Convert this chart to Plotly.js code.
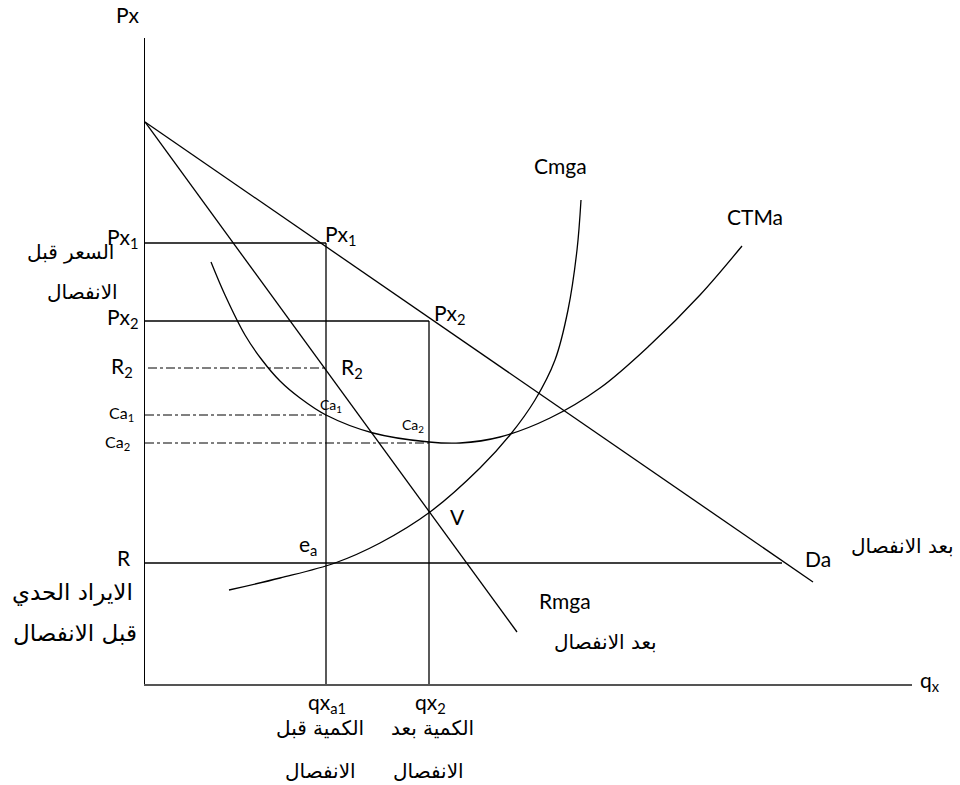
<!DOCTYPE html>
<html>
<head>
<meta charset="utf-8">
<script src="https://cdn.plot.ly/plotly-3.0.1.min.js"></script>
<style>html,body{margin:0;padding:0;background:#fff;}#chart{width:960px;height:785px;}</style>
</head>
<body>
<div id="chart"></div>
<script>
// ---- data (arbitrary units) ----
const qxA1 = 18.1;          // quantity before separation
const qx2 = 28.4;           // quantity after separation
const px1 = 44.1;           // price before separation
const px2 = 36.3;           // price after separation
const r2 = 31.6;
const ca1 = 26.9;
const ca2 = 24.1;
const rLevel = 12.1;
const rEndQ = 63.7;

const demandQ = [0, 66.8];
const demandP = [56.2, 10.2];

const rmgaQ = [0, 37.2];
const rmgaP = [56.2, 5.2];

const ctmaQ = [6.6, 8.0, 10.0, 11.7, 13.5, 15.5, 18.1, 22.8, 28.4, 31.5, 35.5, 40.5, 45.5, 50.5, 55.5, 59.7];
const ctmaP = [42.2, 38.9, 34.9, 32.4, 30.3, 28.6, 26.9, 25.1, 24.2, 24.1, 24.7, 26.6, 29.6, 33.9, 38.9, 43.8];

const cmgaQ = [8.4, 13.5, 19.0, 23.5, 28.5, 33.5, 36.5, 39.0, 41.0, 42.3, 43.2, 43.6];
const cmgaP = [9.4, 10.6, 12.1, 14.1, 17.2, 21.6, 24.9, 28.4, 32.4, 37.4, 43.4, 48.4];

// ---- chart ----
const XR = [0, 76.7], YR = [0, 64.6];
const BLK = '#000';
function seg(x, y, dash, w) {
  return {x: x, y: y, type: 'scatter', mode: 'lines', hoverinfo: 'skip',
          line: {color: BLK, width: w || 1.3, dash: dash || 'solid'}, showlegend: false};
}
function curve(x, y) {
  return {x: x, y: y, type: 'scatter', mode: 'lines', hoverinfo: 'skip', showlegend: false,
          line: {color: BLK, width: 1.3, shape: 'spline', smoothing: 1}};
}
const traces = [
  seg(demandQ, demandP),
  seg(rmgaQ, rmgaP),
  curve(ctmaQ, ctmaP),
  curve(cmgaQ, cmgaP),
  seg([0, qxA1], [px1, px1]),
  seg([qxA1, qxA1], [px1, 0]),
  seg([0, qx2], [px2, px2]),
  seg([qx2, qx2], [px2, 0]),
  seg([0.3, qxA1], [r2, r2], 'dashdot', 1),
  seg([0, qxA1], [ca1, ca1], 'dashdot', 1),
  seg([0, qx2], [ca2, ca2], 'dashdot', 1),
  seg([0, rEndQ], [rLevel, rLevel])
];

const F = 'Lato, "DejaVu Sans", sans-serif';
const AR = '"DejaVu Sans", "Noto Sans", sans-serif';
// label placed in paper space (so labels outside the plot area are drawn too)
function lab(text, x, y, size, xanchor, fam) {
  return {text: text, x: (x - XR[0]) / (XR[1] - XR[0]), y: (y - YR[0]) / (YR[1] - YR[0]),
          xref: 'paper', yref: 'paper', showarrow: false,
          xanchor: xanchor || 'center', yanchor: 'middle',
          font: {family: fam || F, size: size || 21, color: BLK}};
}
const annotations = [
  lab('Px', -1.7, 66.9, 21),
  lab('q<sub>x</sub>', 77.3, 0.3, 21, 'left'),
  lab('Px<sub>1</sub>', -0.4, 44.6, 21, 'right'),
  lab('Px<sub>2</sub>', -0.4, 36.6, 21, 'right'),
  lab('R<sub>2</sub>', -1.0, 31.7, 21, 'right'),
  lab('Ca<sub>1</sub>', -0.9, 27.0, 16, 'right'),
  lab('Ca<sub>2</sub>', -1.3, 24.1, 16, 'right'),
  lab('R', -1.2, 12.7, 21, 'right'),
  lab('السعر قبل', -7.5, 43.2, 20, 'center', AR),
  lab('الانفصال', -6.3, 39.2, 20, 'center', AR),
  lab('الايراد الحدي', -7.3, 9.2, 23, 'center', AR),
  lab('قبل الانفصال', -7.0, 5.1, 23, 'center', AR),
  lab('qx<sub>a1</sub>', 18.2, -1.9, 21),
  lab('الكمية قبل', 17.5, -4.4, 20, 'center', AR),
  lab('الانفصال', 17.5, -8.7, 20, 'center', AR),
  lab('qx<sub>2</sub>', 28.5, -1.9, 21),
  lab('الكمية بعد', 28.7, -4.4, 20, 'center', AR),
  lab('الانفصال', 28.3, -8.7, 20, 'center', AR),
  lab('Px<sub>1</sub>', 17.8, 44.9, 21, 'left'),
  lab('Px<sub>2</sub>', 28.7, 37.0, 21, 'left'),
  lab('R<sub>2</sub>', 19.4, 31.6, 21, 'left'),
  lab('Ca<sub>1</sub>', 17.3, 27.8, 14, 'left'),
  lab('Ca<sub>2</sub>', 25.5, 25.9, 14, 'left'),
  lab('V', 30.3, 16.8, 21, 'left'),
  lab('e<sub>a</sub>', 15.2, 13.9, 21, 'left'),
  lab('Rmga', 39.2, 8.4, 21, 'left'),
  lab('بعد الانفصال', 46.0, 4.2, 20, 'center', AR),
  lab('Da', 65.8, 12.6, 21, 'left'),
  lab('بعد الانفصال', 75.7, 13.8, 20, 'center', AR),
  lab('Cmga', 41.5, 51.8, 21),
  lab('CTMa', 61.0, 46.7, 21)
];

const layout = {
  width: 960, height: 785,
  margin: {l: 145, r: 48, t: 38, b: 101, pad: 0},
  paper_bgcolor: '#fff', plot_bgcolor: '#fff',
  showlegend: false,
  xaxis: {range: XR, showgrid: false, zeroline: false, showticklabels: false, ticks: '',
          showline: true, linecolor: '#555', linewidth: 2, fixedrange: true},
  yaxis: {range: YR, showgrid: false, zeroline: false, showticklabels: false, ticks: '',
          showline: true, linecolor: BLK, linewidth: 1.3, fixedrange: true},
  annotations: annotations
};
Plotly.newPlot('chart', traces, layout, {staticPlot: true, displayModeBar: false});
</script>
</body>
</html>
